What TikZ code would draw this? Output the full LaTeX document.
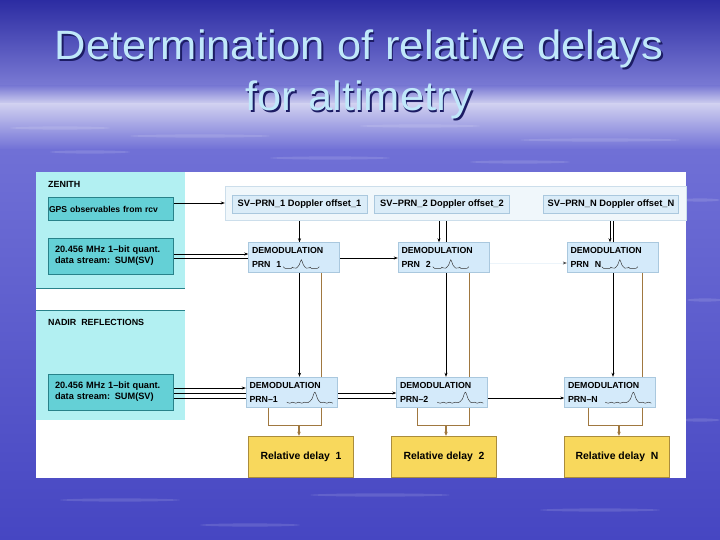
\documentclass[tikz,border=0pt]{standalone}
\usepackage{fontspec}
\setmainfont{Liberation Sans}
\usetikzlibrary{positioning,arrows.meta,calc}
\definecolor{skytop}{RGB}{44,44,162}
\definecolor{skymid}{RGB}{122,122,212}
\definecolor{skyband}{RGB}{208,208,240}
\definecolor{skylow}{RGB}{112,112,214}
\definecolor{skybottom}{RGB}{70,70,194}
\definecolor{zenpanel}{RGB}{178,240,242}
\definecolor{tealbox}{RGB}{100,208,214}
\definecolor{tealline}{RGB}{40,130,138}
\definecolor{dpanelfill}{RGB}{240,247,251}
\definecolor{dopfill}{RGB}{218,236,248}
\definecolor{dopline}{RGB}{170,200,222}
\definecolor{demfill}{RGB}{212,234,250}
\definecolor{delayfill}{RGB}{248,216,92}
\definecolor{delayline}{RGB}{170,140,60}
\definecolor{brownline}{RGB}{160,120,64}
\definecolor{faintwire}{RGB}{236,244,250}
\definecolor{titlecyan}{RGB}{192,232,250}
\definecolor{titleshadow}{RGB}{28,28,100}
\pgfdeclarelayer{backdrop}
\pgfdeclarelayer{wires}
\pgfsetlayers{backdrop,wires,main}
\tikzset{
  titletext/.style={anchor=base, text=titlecyan, xscale=1.06, transform shape, font=\fontsize{41}{49}\selectfont},
  titleshade/.style={anchor=base, text=titleshadow, xscale=1.06, transform shape, font=\fontsize{41}{49}\selectfont},
  grouplabel/.style={anchor=west, inner sep=0pt, font=\fontsize{8.9}{10}\selectfont\bfseries},
  sourcebox/.style={rectangle, draw=tealline, fill=tealbox, minimum width=125pt, minimum height=36pt, text width=111pt, align=left, inner sep=0pt, font=\fontsize{9.2}{11}\selectfont\bfseries},
  dpanel/.style={rectangle, draw=dopline!60, fill=dpanelfill, minimum width=461pt, minimum height=34pt, inner sep=0pt},
  dopbox/.style={rectangle, draw=dopline, fill=dopfill, minimum width=135pt, minimum height=18pt, inner sep=0pt, font=\fontsize{9.3}{10}\selectfont\bfseries},
  demod/.style={rectangle, draw=dopline, fill=demfill, minimum width=91pt, minimum height=30pt, text width=84pt, align=left, inner sep=0pt, font=\fontsize{8.8}{14}\selectfont\bfseries},
  delaybox/.style={rectangle, draw=delayline, fill=delayfill, minimum width=105pt, minimum height=41pt, inner sep=0pt, font=\fontsize{10.4}{12}\selectfont\bfseries},
  arrow/.style={-{Stealth[length=4pt,width=3pt]}, line width=0.6pt},
  delaywire/.style={draw=brownline, line width=1.3pt},
  delayarrow/.style={-{Stealth[length=4pt,width=3.5pt]}, draw=brownline, line width=1.3pt},
  wavepen/.style={line width=0.45pt, black!80},
  wavetop/.pic={\draw[wavepen, yscale=-1] plot[smooth, tension=0.6] coordinates {(0,2)(2,0.2)(5,0)(8,0.2)(9,1.5)(10,0.8)(13,0.6)(16,4)(18,9)(20,4)(23,0.6)(26,0.8)(27,1.5)(28,0.2)(31,0)(34,0.2)(36,2)};},
  wavebot/.pic={\draw[wavepen, yscale=-1] plot[smooth, tension=0.6] coordinates {(0,1)(3,0)(6,1)(9,0)(12,1)(15,0)(18,1)(21,0.5)(25,4)(28,11)(31,4)(34,0.5)(37,1)(40,0)(43,1)(46,0)};}
}
\begin{document}
\begin{tikzpicture}[x=1pt, y=-1pt]
\useasboundingbox (0,0) rectangle (720,540);
\begin{pgfonlayer}{backdrop}
% sky and sea
\shade[top color=skytop, bottom color=skymid] (0,0) rectangle (720,86);
\shade[top color=skymid, bottom color=skyband] (0,86) rectangle (720,104);
\shade[top color=skyband, bottom color=skylow] (0,104) rectangle (720,150);
\shade[top color=skylow, bottom color=skybottom] (0,150) rectangle (720,540);
\foreach \sx/\sy/\sw in {60/128/50, 200/136/70, 420/126/60, 600/140/80, 90/152/40, 330/158/60, 520/162/50, 700/200/20, 705/300/18, 700/420/20, 120/500/60, 380/495/70, 600/510/60, 250/525/50}
  \fill[white, opacity=0.13] (\sx,\sy) ellipse ({\sw} and 1.6);
% diagram sheet
\fill[white] (36,172) rectangle (686,478);
\fill[zenpanel] (36,172) rectangle (185,288);
\fill[zenpanel] (36,310) rectangle (185,420);
\draw[tealline, line width=0.6pt] (36,288) -- (185,288);
\draw[tealline, line width=0.6pt] (36,310) -- (185,310);
\end{pgfonlayer}

% title
\node[titleshade] (titleoneshade) at (360.5,61.5) {Determination of relative delays};
\node[titletext] (titleone) at (359,60) {Determination of relative delays};
\node[titleshade] (titletwoshade) at (360.5,112.5) {for altimetry};
\node[titletext] (titletwo) at (359,111) {for altimetry};

% zenith and nadir inputs
\node[grouplabel] (zenith) at (48,184) {ZENITH};
\node[sourcebox, minimum height=23pt, text width=123pt, font=\fontsize{8.6}{10}\selectfont\bfseries] (gps) at (110.5,209) {GPS observables from rcv};
\node[sourcebox] (zdata) at (110.5,256) {20.456 MHz 1--bit quant.\\data stream: SUM(SV)};
\node[grouplabel] (nadir) at (48,322) {NADIR\ \ REFLECTIONS};
\node[sourcebox] (ndata) at (110.5,392) {20.456 MHz 1--bit quant.\\data stream: SUM(SV)};

% doppler offsets
\node[dpanel] (dpanel) at (455.5,203) {};
\node[dopbox] (dop1) at (299.5,204) {SV--PRN\_1 Doppler offset\_1};
\node[dopbox] (dop2) at (442,204) {SV--PRN\_2 Doppler offset\_2};
\node[dopbox] (dop3) at (611,204) {SV--PRN\_N Doppler offset\_N};

% demodulation, direct and reflected
\node[demod] (dtop1) at (294,257.5) {DEMODULATION\\PRN\ \ 1};
\node[demod] (dtop2) at (443.5,257.5) {DEMODULATION\\PRN\ \ 2};
\node[demod] (dtop3) at (612.5,257.5) {DEMODULATION\\PRN\ \ N};
\node[demod] (dbot1) at (291.5,392) {DEMODULATION\\PRN--1};
\node[demod] (dbot2) at (442,392) {DEMODULATION\\PRN--2};
\node[demod] (dbot3) at (610,392) {DEMODULATION\\PRN--N};
\pic at ([xshift=35pt,yshift=4pt]dtop1.south west) {wavetop};
\pic at ([xshift=35pt,yshift=4pt]dtop2.south west) {wavetop};
\pic at ([xshift=35pt,yshift=4pt]dtop3.south west) {wavetop};
\pic at ([xshift=41pt,yshift=4pt]dbot1.south west) {wavebot};
\pic at ([xshift=41pt,yshift=4pt]dbot2.south west) {wavebot};
\pic at ([xshift=41pt,yshift=4pt]dbot3.south west) {wavebot};

% relative delays
\node[delaybox] (del1) at (301,456.5) {Relative delay\ \ 1};
\node[delaybox] (del2) at (444,456.5) {Relative delay\ \ 2};
\node[delaybox] (del3) at (617,456.5) {Relative delay\ \ N};
\coordinate (tap1) at ($(dbot1.south)+(7.5,18)$);
\coordinate (tap2) at ($(dbot2.south)+(4,18)$);
\coordinate (tap3) at ($(dbot3.south)+(9,18)$);

\begin{pgfonlayer}{wires}
\draw[arrow] (gps.east |- dpanel.west) -- (dpanel.west);
\draw[arrow] ([yshift=2pt]zdata.east) -- ([yshift=2pt]zdata.east -| dtop1.west);
\draw[arrow] ([yshift=-2pt]zdata.east) -- ([yshift=-2pt]zdata.east -| dtop2.west);
\draw[-{Stealth[length=4pt,width=3pt,color=black!70]}, draw=faintwire, line width=0.6pt] ([yshift=-5.5pt]dtop2.east) -- ([yshift=-5.5pt]dtop2.east -| dtop3.west);
\draw[arrow] ([yshift=4pt]ndata.east) -- ([yshift=4pt]ndata.east -| dbot1.west);
\draw[arrow] ([yshift=-1pt]ndata.east) -- ([yshift=-1pt]ndata.east -| dbot2.west);
\draw[arrow] ([yshift=-6pt]ndata.east) -- ([yshift=-6pt]ndata.east -| dbot3.west);
\draw[arrow] (dop1.south) -- (dop1.south |- dtop1.north);
\draw[arrow] (dop1.south) -- (dop1.south |- dbot1.north);
\draw[arrow] ([xshift=-3pt]dop2.south) -- ([xshift=-3pt]dop2.south |- dtop2.north);
\draw[arrow] ([xshift=4pt]dop2.south) -- ([xshift=4pt]dop2.south |- dbot2.north);
\draw[arrow] ([xshift=-1pt]dop3.south) -- ([xshift=-1pt]dop3.south |- dtop3.north);
\draw[arrow] ([xshift=2pt]dop3.south) -- ([xshift=2pt]dop3.south |- dbot3.north);
\draw[delaywire] ([xshift=-18pt]dtop1.south east) |- (tap1) -| ([xshift=23pt]dbot1.south west);
\draw[delaywire] ([xshift=-20pt]dtop2.south east) |- (tap2) -| ([xshift=21pt]dbot2.south west);
\draw[delaywire] ([xshift=-16pt]dtop3.south east) |- (tap3) -| ([xshift=24pt]dbot3.south west);
\draw[delayarrow] (tap1) -- (tap1 |- del1.north);
\draw[delayarrow] (tap2) -- (tap2 |- del2.north);
\draw[delayarrow] (tap3) -- (tap3 |- del3.north);
\end{pgfonlayer}
\end{tikzpicture}
\end{document}
